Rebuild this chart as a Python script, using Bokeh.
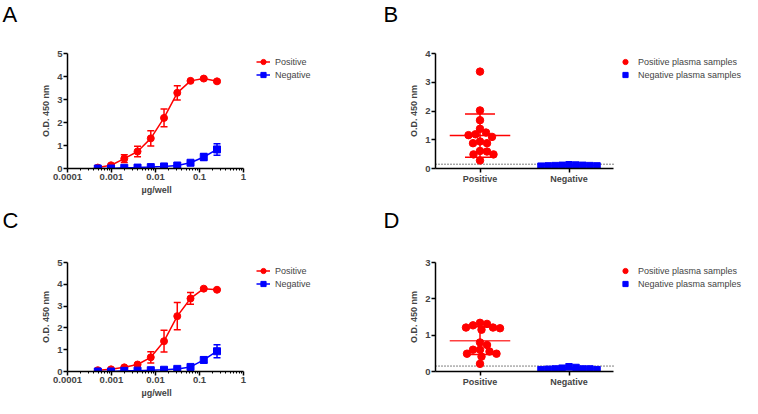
from bokeh.plotting import figure
from bokeh.models import (ColumnDataSource, Whisker, TeeHead, Legend, LegendItem,
                          FixedTicker, CustomJSTickFormatter, Range1d, Title)
from bokeh.core.properties import value
from bokeh.layouts import column, row
from bokeh.embed import file_html
from bokeh.resources import INLINE

# ---------------- data ----------------
doses = [0.00048828125, 0.0009765625, 0.001953125, 0.00390625, 0.0078125,
         0.015625, 0.03125, 0.0625, 0.125, 0.25]

a_pos = [0.04, 0.14, 0.43, 0.74, 1.31, 2.20, 3.29, 3.81, 3.91, 3.79]
a_pos_sd = [0.03, 0.05, 0.17, 0.23, 0.33, 0.39, 0.31, 0.05, 0.05, 0.05]
a_neg = [0.00, 0.00, 0.03, 0.04, 0.06, 0.09, 0.13, 0.25, 0.50, 0.83]
a_neg_sd = [0.01, 0.01, 0.02, 0.02, 0.03, 0.03, 0.04, 0.05, 0.15, 0.25]

c_pos = [0.06, 0.10, 0.19, 0.32, 0.65, 1.39, 2.54, 3.35, 3.80, 3.75]
c_pos_sd = [0.02, 0.03, 0.04, 0.05, 0.26, 0.50, 0.63, 0.27, 0.04, 0.04]
c_neg = [0.00, 0.00, 0.03, 0.04, 0.06, 0.08, 0.12, 0.21, 0.53, 0.93]
c_neg_sd = [0.01, 0.01, 0.02, 0.02, 0.03, 0.03, 0.04, 0.05, 0.13, 0.30]

b_pos = [3.37, 2.02, 1.68, 1.38, 1.25, 1.19, 1.16, 1.10, 0.94, 0.88, 0.88,
         0.61, 0.59, 0.49, 0.49, 0.28]
b_neg = [0.10, 0.12, 0.09, 0.11, 0.08, 0.10, 0.09, 0.11, 0.13]

d_pos = [1.34, 1.27, 1.31, 1.21, 1.15, 1.19, 1.21, 0.80, 0.73, 0.55, 0.60,
         0.60, 0.49, 0.49, 0.41, 0.21]
d_neg = [0.11, 0.07, 0.05, 0.05, 0.06, 0.07, 0.07, 0.09, 0.13]

cutoff = 0.15
groups = ["Positive", "Negative"]
x_ticks = [0.0001, 0.001, 0.01, 0.1, 1]
panel_letters = ["A", "B", "C", "D"]
RED = "#ff0000"
BLUE = "#0000ff"
FONT = "Liberation Sans"


def style_axes(p):
    p.grid.visible = False
    p.outline_line_color = None
    for ax in (p.xaxis[0], p.yaxis[0]):
        ax.axis_line_width = 1.5
        ax.major_tick_line_width = 1.5
        ax.minor_tick_line_width = 1
        ax.major_tick_out = 4
        ax.major_tick_in = 0
        ax.minor_tick_out = 2
        ax.minor_tick_in = 0
        ax.major_label_text_font = FONT
        ax.major_label_text_font_style = "bold"
        ax.major_label_text_font_size = "9.5px"
        ax.axis_label_text_font = FONT
        ax.axis_label_text_font_style = "bold"
        ax.axis_label_text_font_size = "9px"
        ax.major_label_standoff = 1
        ax.axis_label_standoff = 3
    p.yaxis[0].minor_tick_line_color = None


def letter_fig(letter, w, h, x, mid):
    p = figure(width=w, height=h, output_backend="svg", toolbar_location=None, title=None,
               x_range=Range1d(0, w), y_range=Range1d(0, h),
               x_axis_location=None, y_axis_location=None, min_border=0)
    p.grid.visible = False
    p.outline_line_color = None
    p.text(x=[x], y=[h - mid], text=[letter], text_font=value(FONT),
           text_font_size="22px", text_baseline="middle", text_color="black")
    return p


def make_legend(p, items, gap, frame_h, standoff):
    leg = Legend(items=items, location=(gap, frame_h - 28), glyph_width=14,
                 glyph_height=13, label_standoff=standoff, spacing=0, padding=0, margin=0,
                 border_line_color=None, background_fill_alpha=0,
                 label_text_font=FONT, label_text_font_size="9px", label_height=13)
    p.add_layout(leg)


def titration(pos, pos_sd, neg, neg_sd, w, h, left, top, frame_h, bottom):
    data_w = 176
    per_decade = data_w / 4
    x_end = 10 ** (-4 + (w - left) / per_decade)
    p = figure(width=w, height=h, x_axis_type="log", output_backend="svg",
               toolbar_location=None, x_range=Range1d(1e-4, x_end), y_range=Range1d(0, 5),
               min_border_left=left, min_border_right=0,
               min_border_top=top, min_border_bottom=bottom)
    style_axes(p)
    minors = [k * 10 ** e for e in range(-4, 0) for k in range(2, 10)]
    p.xaxis.ticker = FixedTicker(ticks=x_ticks, minor_ticks=minors)
    p.xaxis.bounds = (x_ticks[0], x_ticks[-1])
    p.xaxis.formatter = CustomJSTickFormatter(code="return tick.toString();")
    p.yaxis.ticker = FixedTicker(ticks=[0, 1, 2, 3, 4, 5])
    p.yaxis.axis_label = "O.D. 450 nm"
    p.add_layout(Title(text="µg/well", align="left", offset=74, text_font=FONT,
                       text_font_size="9px", text_font_style="bold", standoff=1), "below")
    items = []
    for vals, sd, col, mk, name in ((pos, pos_sd, RED, "circle", "Positive"),
                                    (neg, neg_sd, BLUE, "square", "Negative")):
        src = ColumnDataSource(dict(x=doses, y=vals,
                                    up=[v + s for v, s in zip(vals, sd)],
                                    lo=[v - s for v, s in zip(vals, sd)]))
        p.add_layout(Whisker(source=src, base="x", upper="up", lower="lo",
                             line_color=col, line_width=1.5,
                             upper_head=TeeHead(size=7, line_color=col, line_width=1.5),
                             lower_head=TeeHead(size=7, line_color=col, line_width=1.5)))
        ln = p.line("x", "y", source=src, line_color=col, line_width=1.5)
        sc = p.scatter("x", "y", source=src, marker=mk, size=7, fill_color=col,
                       line_color=col)
        items.append(LegendItem(label=name, renderers=[ln, sc]))
    make_legend(p, items, data_w + 13, frame_h, 5)
    return p


def swarm(vals, ppu_y, ppu_x, diam=7.0):
    order = sorted(range(len(vals)), key=lambda i: -vals[i])
    placed = []
    offs = [0.0] * len(vals)
    for i in order:
        y = vals[i] * ppu_y
        k = 0
        while True:
            cands = [0.0] if k == 0 else [k * 0.5, -k * 0.5]
            done = False
            for c in cands:
                if all((c - px) ** 2 + (y - py) ** 2 >= diam ** 2 for px, py in placed):
                    placed.append((c, y))
                    offs[i] = c / ppu_x
                    done = True
                    break
            if done:
                break
            k += 1
    return offs


def scatter_panel(pos, neg, ymax, w, h, left, top, frame_h, bottom, mean_alpha):
    data_w = 178
    ppu_x = data_w / 2
    x_end = (w - left) / ppu_x
    p = figure(width=w, height=h, output_backend="svg", toolbar_location=None,
               x_range=Range1d(0, x_end), y_range=Range1d(0, ymax),
               min_border_left=left, min_border_right=0,
               min_border_top=top, min_border_bottom=bottom)
    style_axes(p)
    p.xaxis.ticker = FixedTicker(ticks=[0.5, 1.5])
    p.xaxis.bounds = (0, 2)
    p.xaxis.major_label_overrides = {0.5: groups[0], 1.5: groups[1]}
    p.xaxis.major_label_text_font_size = "9px"
    p.yaxis.ticker = FixedTicker(ticks=list(range(0, ymax + 1)))
    p.yaxis.axis_label = "O.D. 450 nm"
    ppu_y = frame_h / ymax
    p.segment(x0=[0], y0=[cutoff], x1=[2], y1=[cutoff], line_color="black",
              line_width=1, line_dash="1 2")
    items = []
    for k, (vals, col, mk, name) in enumerate(((pos, RED, "circle", "Positive plasma samples"),
                                              (neg, BLUE, "square", "Negative plasma samples"))):
        cx = 0.5 + k
        n = len(vals)
        mean = sum(vals) / n
        sd = (sum((v - mean) ** 2 for v in vals) / (n - 1)) ** 0.5
        offs = swarm(vals, ppu_y, ppu_x)
        src = ColumnDataSource(dict(x=[cx + o for o in offs], y=vals))
        sc = p.scatter("x", "y", source=src, marker=mk, size=7.5 if mk == "circle" else 6.5,
                       fill_color=col, line_color=col)
        items.append(LegendItem(label=name, renderers=[sc]))
        stat = ColumnDataSource(dict(x=[cx], m=[mean], up=[mean + sd], lo=[mean - sd],
                                     x0=[cx - 0.34], x1=[cx + 0.34]))
        p.segment("x0", "m", "x1", "m", source=stat, line_color=col, line_width=1.5,
                  line_alpha=mean_alpha)
        p.add_layout(Whisker(source=stat, base="x", upper="up", lower="lo",
                             line_color=col, line_width=1.5,
                             upper_head=TeeHead(size=30, line_color=col, line_width=1.5),
                             lower_head=TeeHead(size=30, line_color=col, line_width=1.5)))
    make_legend(p, items, data_w + 5, frame_h, 6)
    return p


WL, WR = 372, 370
lA = letter_fig(panel_letters[0], WL, 30, 2, 14)
lB = letter_fig(panel_letters[1], WR, 30, 11, 14)
pA = titration(a_pos, a_pos_sd, a_neg, a_neg_sd, WL, 168, 67, 23, 115, 30)
pB = scatter_panel(b_pos, b_neg, 4, WR, 168, 63, 23, 115, 30, 1.0)
lC = letter_fig(panel_letters[2], WL, 34, 2, 22)
lD = letter_fig(panel_letters[3], WR, 34, 11, 22)
pC = titration(c_pos, c_pos_sd, c_neg, c_neg_sd, WL, 166, 67, 30, 109, 27)
pD = scatter_panel(d_pos, d_neg, 3, WR, 166, 63, 30, 109, 27, 0.75)

layout = column(row(lA, lB), row(pA, pB), row(lC, lD), row(pC, pD))
open("out.html", "w").write(file_html(layout, INLINE))
